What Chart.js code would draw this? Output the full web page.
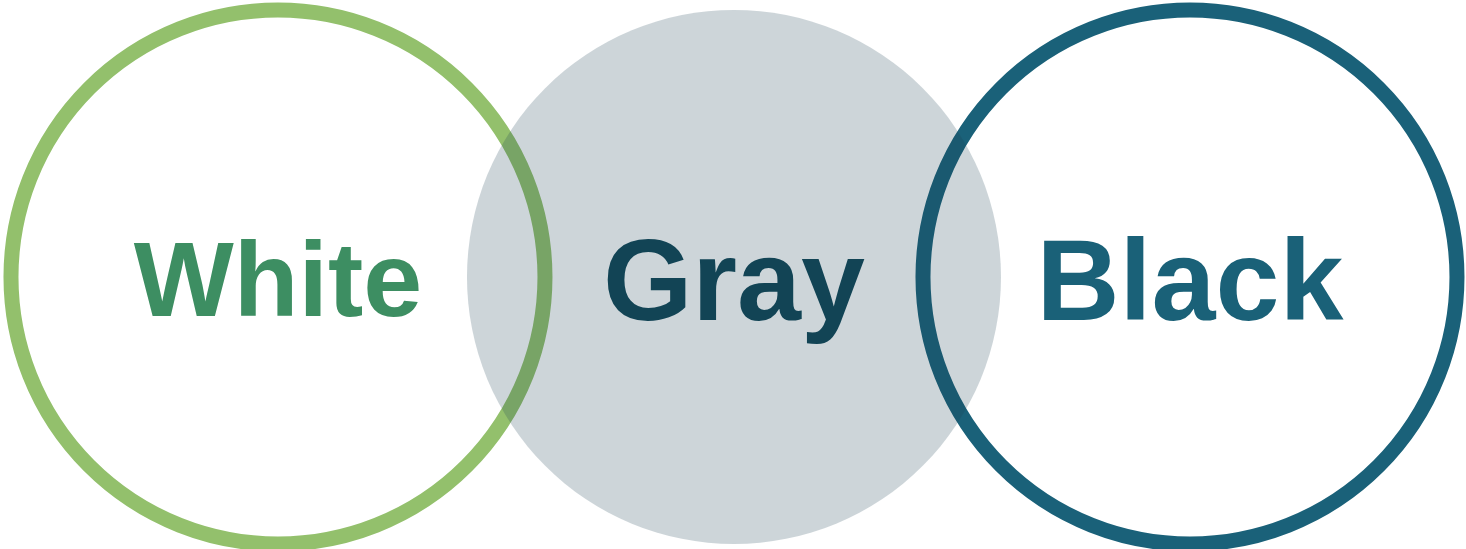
<!DOCTYPE html>
<html>
<head>
<meta charset="utf-8">
<script src="https://cdn.jsdelivr.net/npm/chart.js@4"></script>
<style>
  html, body { margin: 0; padding: 0; background: #ffffff; overflow: hidden; }
  canvas { display: block; }
</style>
</head>
<body>
<canvas id="vennChart" width="1466" height="549"></canvas>
<script>
// chart data
let categories = ['White', 'Gray', 'Black'],
    xValues = [1, 2, 3],
    yValues = [0, 0, 0],
    rValues = [267, 267, 267];

let ringColors = ['#93c06c', null, '#1a6179'],
    labelColors = ['#3d8e62', '#124455', '#1a6178'],
    labelSizes = [106, 115, 115];

// center labels drawn on top of the bubbles
const labelPlugin = {
    id: 'vennLabels',
    afterDatasetsDraw(chart) {
        const ctx = chart.ctx,
              xs = chart.scales.x,
              ys = chart.scales.y;
        ctx.save();
        ctx.textAlign = 'center';
        ctx.textBaseline = 'alphabetic';
        for (let i = 0; i < categories.length; i++) {
            let px = xs.getPixelForValue(xValues[i]),
                py = ys.getPixelForValue(yValues[i]);
            ctx.font = 'bold ' + labelSizes[i] + 'px "Liberation Sans", Arial, sans-serif';
            ctx.fillStyle = labelColors[i];
            ctx.fillText(categories[i], px, py + labelSizes[i] * 0.37);
        }
        ctx.restore();
    }
};

function point(i) {
    return { x: xValues[i], y: yValues[i], r: rValues[i] };
}

new Chart(document.getElementById('vennChart'), {
    type: 'bubble',
    data: {
        datasets: [
            {
                // gray filled circle sits over the rings
                label: categories[1],
                data: [point(1)],
                backgroundColor: 'rgba(28, 64, 82, 0.22)',
                borderWidth: 0,
                order: 0,
                clip: false
            },
            {
                label: 'rings',
                data: [point(0), point(2)],
                backgroundColor: 'rgba(0,0,0,0)',
                borderColor: [ringColors[0], ringColors[2]],
                borderWidth: 15,
                order: 1,
                clip: false
            }
        ]
    },
    options: {
        responsive: false,
        animation: false,
        events: [],
        layout: { padding: 0, autoPadding: false },
        plugins: {
            legend: { display: false },
            tooltip: { enabled: false }
        },
        scales: {
            x: { type: 'linear', display: false, bounds: 'data', min: 0.3904, max: 3.6053 },
            y: { type: 'linear', display: false, bounds: 'data', min: -0.982, max: 1 }
        }
    },
    plugins: [labelPlugin]
});
</script>
</body>
</html>
